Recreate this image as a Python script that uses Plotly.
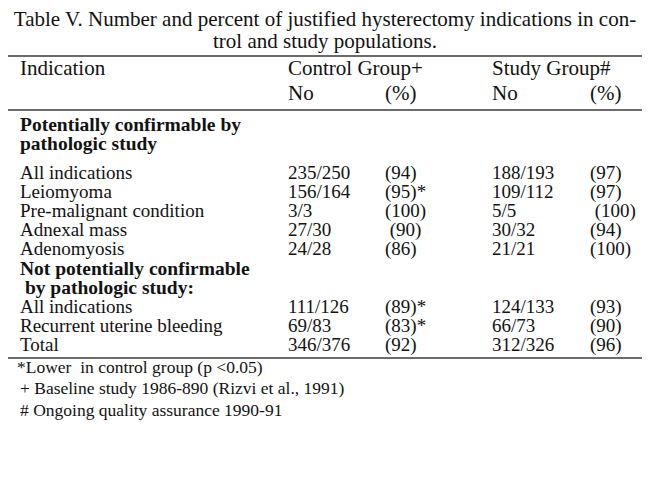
import plotly.graph_objects as go

# table contents
title_lines = [
    "Table V. Number and percent of justified hysterectomy indications in con-",
    "trol and study populations.",
]
group_heads = ["Control Group+", "Study Group#"]
sub_heads = ["No", "(%)", "No", "(%)"]

section_a = ["Potentially confirmable by", "pathologic study"]
rows_a = ["All indications", "Leiomyoma", "Pre-malignant condition", "Adnexal mass", "Adenomyosis"]
control_no_a = ["235/250", "156/164", "3/3", "27/30", "24/28"]
control_pct_a = ["(94)", "(95)*", "(100)", " (90)", "(86)"]
study_no_a = ["188/193", "109/112", "5/5", "30/32", "21/21"]
study_pct_a = ["(97)", "(97)", " (100)", "(94)", "(100)"]

section_b = ["Not potentially confirmable", " by pathologic study:"]
rows_b = ["All indications", "Recurrent uterine bleeding", "Total"]
control_no_b = ["111/126", "69/83", "346/376"]
control_pct_b = ["(89)*", "(83)*", "(92)"]
study_no_b = ["124/133", "66/73", "312/326"]
study_pct_b = ["(93)", "(90)", "(96)"]

footnotes = [
    "*Lower  in control group (p <0.05)",
    "+ Baseline study 1986-890 (Rizvi et al., 1991)",
    "# Ongoing quality assurance 1990-91",
]

FONT = "Liberation Serif, Times New Roman, serif"
INK = "#121212"
W, H = 650, 491
PAD = 8  # page body margin of the html file

# column left edges (px)
col_x = [20, 288, 385, 492, 590]
row_step = 19

fig = go.Figure()


def add_text(xs, ys, texts, size=19, bold=False, pos="middle right"):
    if bold:
        texts = ["<b>%s</b>" % t for t in texts]
    fig.add_trace(go.Scatter(
        x=xs, y=ys, text=texts, mode="text", textposition=pos,
        textfont=dict(family=FONT, size=size, color=INK),
        cliponaxis=False, hoverinfo="skip", showlegend=False,
    ))


# title (kept just below the top edge so it is not clipped)
add_text([325, 325], [21, 43], title_lines, size=21, pos="middle center")

# header
add_text([col_x[0]], [70], ["Indication"], size=21)
add_text([col_x[1], col_x[3]], [70, 70], group_heads, size=21)
add_text(col_x[1:], [95] * 4, sub_heads, size=21)

# section A
add_text([col_x[0]] * 2, [126, 145], section_a, size=19.5, bold=True)
ya = [174 + row_step * i for i in range(len(rows_a))]
add_text([col_x[0]] * len(rows_a), ya, rows_a)
add_text([col_x[1]] * len(ya), ya, control_no_a)
add_text([col_x[2]] * len(ya), ya, control_pct_a)
add_text([col_x[3]] * len(ya), ya, study_no_a)
add_text([col_x[4]] * len(ya), ya, study_pct_a)

# section B
add_text([col_x[0]] * 2, [270, 289], section_b, size=19.5, bold=True)
yb = [308 + row_step * i for i in range(len(rows_b))]
add_text([col_x[0]] * len(rows_b), yb, rows_b)
add_text([col_x[1]] * len(yb), yb, control_no_b)
add_text([col_x[2]] * len(yb), yb, control_pct_b)
add_text([col_x[3]] * len(yb), yb, study_no_b)
add_text([col_x[4]] * len(yb), yb, study_pct_b)

# footnotes
add_text([17, 20, 20], [369, 390, 412], footnotes, size=17.5)

# rules
for y in [56, 110, 358]:
    fig.add_shape(type="line", x0=0, x1=W, y0=y, y1=y,
                  line=dict(color="#3a3a3a", width=1.3))

fig.update_layout(
    width=W - PAD, height=H - PAD,
    margin=dict(l=0, r=0, t=0, b=0),
    paper_bgcolor="white", plot_bgcolor="white",
    xaxis=dict(range=[PAD, W], visible=False, fixedrange=True),
    yaxis=dict(range=[H, PAD], visible=False, fixedrange=True),
)

fig.write_html("out.html")
